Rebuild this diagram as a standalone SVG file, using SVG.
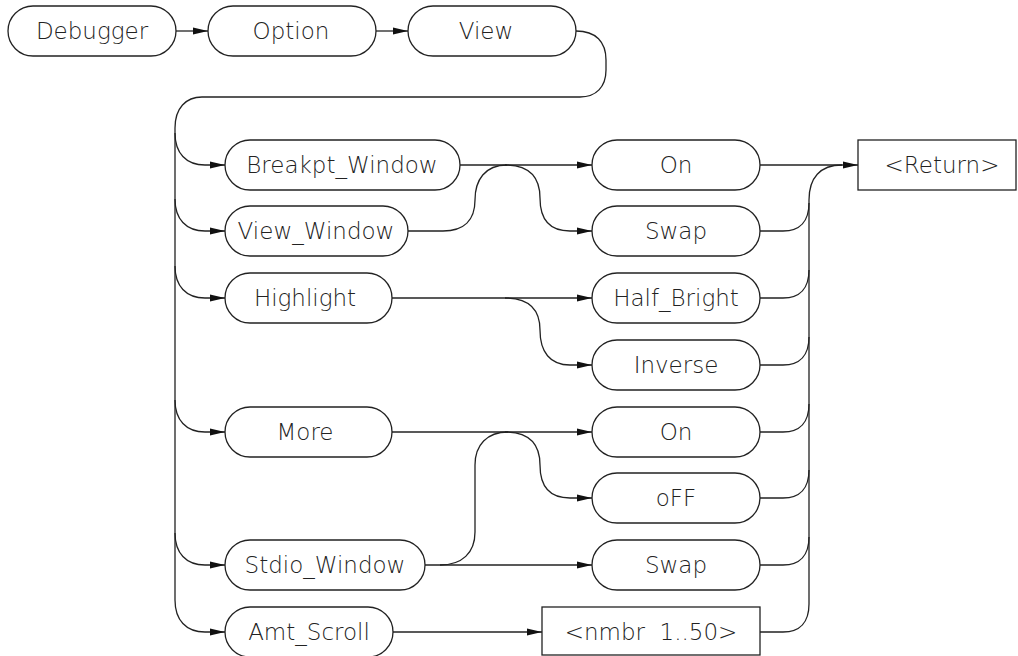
<svg xmlns="http://www.w3.org/2000/svg" width="1018" height="656" viewBox="0 0 1018 656">
<style>
.b{fill:#fff;stroke:#222;stroke-width:1.3}
.c{fill:none;stroke:#222;stroke-width:1.3}
.a{marker-end:url(#ar)}
text{font-family:"DejaVu Sans","Liberation Sans",sans-serif;font-size:23px;font-weight:200;text-anchor:middle;fill:#222}
</style>
<defs>
<marker id="ar" markerUnits="userSpaceOnUse" markerWidth="15" markerHeight="8" refX="15" refY="4" orient="auto">
<path d="M0,0.6 L15,4 L0,7.4 z" fill="#111"/>
</marker>
</defs>
<rect width="1018" height="656" fill="#fff"/>
<g id="connectors">
<path class="c a" d="M176,31 L208,31"/>
<path class="c a" d="M376,31 L408,31"/>
<path class="c" d="M576,31 C596,31 606,42 606,60 L606,70 C606,87 596,97 580,97 L202,97 C186,97 175,108 175,128 L175,600"/>
<path class="c a" d="M175,133 C175,153 186,165 205,165 L225,165"/>
<path class="c a" d="M175,199 C175,219 186,231 205,231 L225,231"/>
<path class="c a" d="M175,266 C175,286 186,298 205,298 L225,298"/>
<path class="c a" d="M175,400 C175,420 186,432 205,432 L225,432"/>
<path class="c a" d="M175,533 C175,553 186,565 205,565 L225,565"/>
<path class="c a" d="M175,600 C175,620 186,632 205,632 L225,632"/>
<path class="c a" d="M460,165 L592,165"/>
<path class="c a" d="M505,165 C530,165 540,178 540,198 C540,220 550,231 570,231 L592,231"/>
<path class="c" d="M408,231 L443,231 C464,231 475,220 475,200 C475,180 485,165 507,165"/>
<path class="c a" d="M392,298 L592,298"/>
<path class="c a" d="M505,298 C530,298 540,310 540,330 C540,352 550,365 570,365 L592,365"/>
<path class="c a" d="M392,432 L592,432"/>
<path class="c a" d="M505,432 C530,432 540,445 540,465 C540,487 550,498 570,498 L592,498"/>
<path class="c a" d="M425,565 L592,565"/>
<path class="c" d="M440,565 C462,565 475,553 475,532 L475,465 C475,445 487,432 508,432"/>
<path class="c a" d="M393,632 L542,632"/>
<path class="c a" d="M760,165 L858,165"/>
<path class="c" d="M809,604 L809,200 C809,178 820,165 842,165"/>
<path class="c" d="M760,231 L783,231 C800,231 809,221 809,203"/>
<path class="c" d="M760,298 L783,298 C800,298 809,288 809,270"/>
<path class="c" d="M760,365 L783,365 C800,365 809,355 809,337"/>
<path class="c" d="M760,432 L783,432 C800,432 809,422 809,404"/>
<path class="c" d="M760,498 L783,498 C800,498 809,488 809,470"/>
<path class="c" d="M760,565 L783,565 C800,565 809,555 809,537"/>
<path class="c" d="M760,632 L783,632 C800,632 809,622 809,604"/>
</g>
<g id="n-debugger"><rect class="b" x="8" y="6" width="168" height="50" rx="25"/><text x="92" y="39">Debugger</text></g>
<g id="n-option"><rect class="b" x="208" y="6" width="168" height="50" rx="25"/><text x="291" y="39">Option</text></g>
<g id="n-view"><rect class="b" x="408" y="6" width="168" height="50" rx="25"/><text x="486" y="39">View</text></g>
<g id="n-breakpt"><rect class="b" x="225" y="140" width="235" height="50" rx="25"/><text x="342" y="173">Breakpt_Window</text></g>
<g id="n-viewwin"><rect class="b" x="225" y="206" width="183" height="50" rx="25"/><text x="316" y="239">View_Window</text></g>
<g id="n-highlight"><rect class="b" x="225" y="273" width="167" height="50" rx="25"/><text x="305" y="306">Highlight</text></g>
<g id="n-more"><rect class="b" x="225" y="407" width="167" height="50" rx="25"/><text x="305" y="440">More</text></g>
<g id="n-stdio"><rect class="b" x="225" y="540" width="200" height="50" rx="25"/><text x="325" y="573">Stdio_Window</text></g>
<g id="n-amt"><rect class="b" x="225" y="607" width="168" height="50" rx="25"/><text x="309" y="640">Amt_Scroll</text></g>
<g id="n-on1"><rect class="b" x="592" y="140" width="168" height="50" rx="25"/><text x="676" y="173">On</text></g>
<g id="n-swap1"><rect class="b" x="592" y="206" width="168" height="50" rx="25"/><text x="676" y="239">Swap</text></g>
<g id="n-halfbright"><rect class="b" x="592" y="273" width="168" height="50" rx="25"/><text x="676" y="306">Half_Bright</text></g>
<g id="n-inverse"><rect class="b" x="592" y="340" width="168" height="50" rx="25"/><text x="676" y="373">Inverse</text></g>
<g id="n-on2"><rect class="b" x="592" y="407" width="168" height="50" rx="25"/><text x="676" y="440">On</text></g>
<g id="n-off"><rect class="b" x="592" y="473" width="168" height="50" rx="25"/><text x="676" y="506">oFF</text></g>
<g id="n-swap2"><rect class="b" x="592" y="540" width="168" height="50" rx="25"/><text x="676" y="573">Swap</text></g>
<g id="n-nmbr"><rect class="b" x="542" y="607" width="218" height="48"/><text x="651" y="640" xml:space="preserve">&lt;nmbr  1..50&gt;</text></g>
<g id="n-return"><rect class="b" x="858" y="140" width="158" height="50"/><text x="942" y="173">&lt;Return&gt;</text></g>
</svg>
